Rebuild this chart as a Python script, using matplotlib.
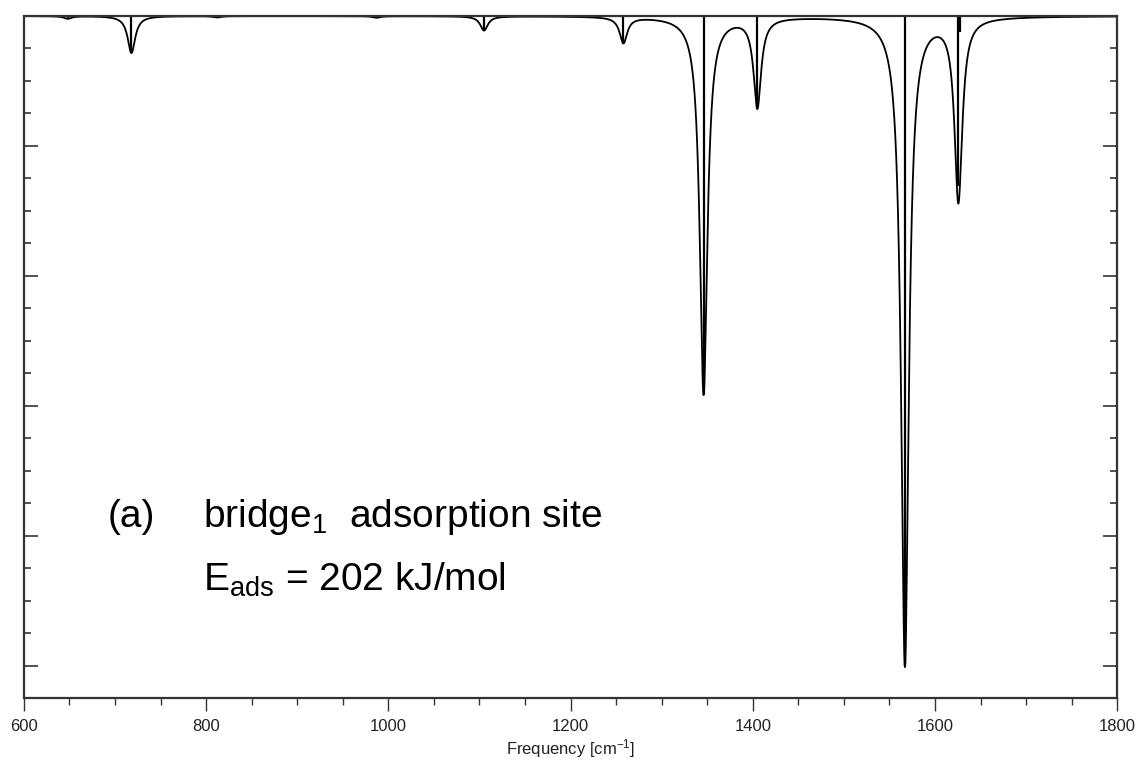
import numpy as np
import matplotlib
matplotlib.use('Agg')
import matplotlib.pyplot as plt
from matplotlib.ticker import MultipleLocator, FixedLocator

plt.rcParams['font.family'] = ['Liberation Sans', 'DejaVu Sans']
plt.rcParams['mathtext.fontset'] = 'custom'
plt.rcParams['mathtext.rm'] = 'Liberation Sans'
plt.rcParams['mathtext.it'] = 'Liberation Sans:italic'

# vibrational modes (position in cm-1, intensity in axis units)
mode_freq = [648, 718, 812, 987, 1105, 1258, 1346, 1405, 1567, 1625.5, 1628]
mode_int = [0.02, 0.285, 0.01, 0.012, 0.11, 0.2, 2.91, 0.69, 5.0, 1.31, 0.12]
hwhm = 5.0

x_ticks = [600, 800, 1000, 1200, 1400, 1600, 1800]

freq = np.linspace(600, 1800, 24001)
spec = np.zeros_like(freq)
for f0, a in zip(mode_freq, mode_int):
    spec += a * hwhm**2 / ((freq - f0)**2 + hwhm**2)

fig = plt.figure(figsize=(11.4, 7.62), dpi=100)
ax = fig.add_axes([0.021, 0.084, 0.959, 0.895])

ax.plot(freq, -spec, color='black', lw=1.3)
ax.vlines(mode_freq, 0, -np.array(mode_int), color='black', lw=1.6)

ax.set_xlim(600, 1800)
ax.set_ylim(-5.25, 0)

ax.xaxis.set_major_locator(FixedLocator(x_ticks))
ax.xaxis.set_minor_locator(MultipleLocator(50))
ax.yaxis.set_major_locator(FixedLocator([-5, -4, -3, -2, -1]))
ax.yaxis.set_minor_locator(MultipleLocator(0.25))
ax.tick_params(axis='x', which='both', direction='out', top=False, labelsize=12,
               pad=6, width=1.0, color='#333333', labelcolor='#222222')
ax.tick_params(axis='x', which='major', length=9)
ax.tick_params(axis='x', which='minor', length=5)
ax.tick_params(axis='y', which='both', direction='in', left=True, right=True,
               labelleft=False, width=1.2, color='#333333')
ax.tick_params(axis='y', which='major', length=10)
ax.tick_params(axis='y', which='minor', length=5)
for s in ax.spines.values():
    s.set_linewidth(1.6)
    s.set_color('#333333')

ax.set_xlabel('Frequency [cm$^{-1}$]', fontsize=12, labelpad=2, color='#222222')

txt = dict(transform=ax.transAxes, fontsize=28, va='baseline')
ax.text(0.077, 0.251, '(a)', **txt)
ax.text(0.164, 0.251, 'bridge$_1$  adsorption site', **txt)
ax.text(0.164, 0.157, 'E$_{\\mathrm{ads}}$ = 202 kJ/mol', **txt)

fig.savefig('out.png', dpi=100)
